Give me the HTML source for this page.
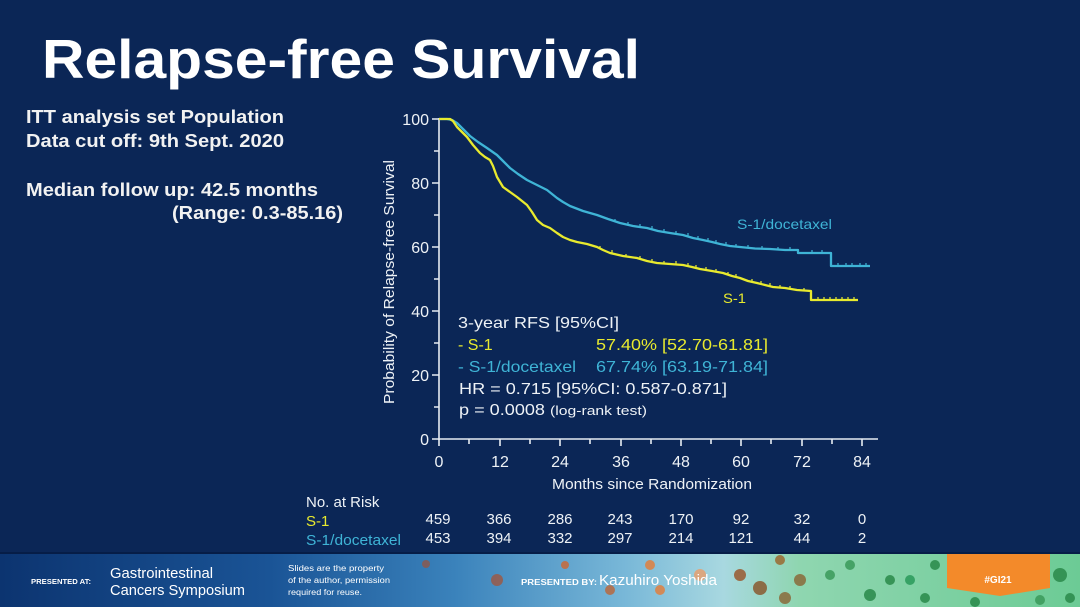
<!DOCTYPE html>
<html><head><meta charset="utf-8"><style>
html,body{margin:0;padding:0;background:#0b2656;}
svg{display:block;}
text{font-family:"Liberation Sans",Arial,sans-serif;}
</style></head><body>
<svg width="1080" height="607" viewBox="0 0 1080 607" xmlns="http://www.w3.org/2000/svg">
<defs>
<linearGradient id="foot" x1="0" y1="0" x2="1" y2="0">
<stop offset="0" stop-color="#0c3470"/>
<stop offset="0.25" stop-color="#1a5496"/>
<stop offset="0.42" stop-color="#3a82bb"/>
<stop offset="0.58" stop-color="#79b8d8"/>
<stop offset="0.67" stop-color="#a8d8e0"/>
<stop offset="0.74" stop-color="#8fd6b0"/>
<stop offset="1" stop-color="#6ccb95"/>
</linearGradient>
</defs>
<rect x="0" y="0" width="1080" height="607" fill="#0b2656"/>

<!-- Title -->
<text x="42" y="78" font-size="55" font-weight="bold" fill="#ffffff" textLength="598" lengthAdjust="spacingAndGlyphs">Relapse-free Survival</text>

<!-- Left text -->
<g font-size="18" font-weight="bold" fill="#f2f2f2">
<text x="26" y="123" textLength="258" lengthAdjust="spacingAndGlyphs">ITT analysis set Population</text>
<text x="26" y="147" textLength="258" lengthAdjust="spacingAndGlyphs">Data cut off: 9th Sept. 2020</text>
<text x="26" y="196" textLength="292" lengthAdjust="spacingAndGlyphs">Median follow up: 42.5 months</text>
<text x="172" y="219" textLength="171" lengthAdjust="spacingAndGlyphs">(Range: 0.3-85.16)</text>
</g>

<!-- Axes -->
<g stroke="#e6ebf2" stroke-width="1.6" fill="none">
<line x1="439" y1="118" x2="439" y2="440"/>
<line x1="438" y1="439" x2="878" y2="439"/>
<path d="M432 119H439M432 183H439M432 247H439M432 311H439M432 375H439M432 439H439"/>
<path d="M434 151H439M434 215H439M434 279H439M434 343H439M434 407H439"/>
<path d="M439 439V446M500 439V446M560 439V446M621 439V446M681 439V446M741 439V446M802 439V446M862 439V446"/>
<path d="M469 439V444M530 439V444M590 439V444M651 439V444M711 439V444M771 439V444M832 439V444"/>
</g>

<g font-size="16" fill="#eef2f6" text-anchor="end">
<text x="429" y="125">100</text>
<text x="429" y="189">80</text>
<text x="429" y="253">60</text>
<text x="429" y="317">40</text>
<text x="429" y="381">20</text>
<text x="429" y="445">0</text>
</g>
<g font-size="16" fill="#eef2f6" text-anchor="middle">
<text x="439" y="467">0</text>
<text x="500" y="467">12</text>
<text x="560" y="467">24</text>
<text x="621" y="467">36</text>
<text x="681" y="467">48</text>
<text x="741" y="467">60</text>
<text x="802" y="467">72</text>
<text x="862" y="467">84</text>
</g>
<text x="552" y="489" font-size="15" fill="#eef2f6" textLength="200" lengthAdjust="spacingAndGlyphs">Months since Randomization</text>
<text transform="translate(394,404) rotate(-90)" x="0" y="0" font-size="15" fill="#eef2f6" textLength="244" lengthAdjust="spacingAndGlyphs">Probability of Relapse-free  Survival</text>

<!-- Curves -->
<polyline fill="none" stroke="#3fb4d6" stroke-width="2.3" stroke-linejoin="round" points="439,119 447,119 452,120 457,123 463,129 470,136 478,142 487,148 497,155 503,161 510,168 518,174 527,180 537,185 547,190 552,194 557,198 563,202 570,206 583,211 597,215 608,219 620,223 633,226 647,228 658,231 670,233 683,235 693,238 703,240 712,242 720,244 730,246 740,247 755,248.5 770,249 785,250 798,250 798,253 831,253 831,266 870,266"/>
<polyline fill="none" stroke="#e8ea2e" stroke-width="2.3" stroke-linejoin="round" points="439,119 450,119 453,121 457,127 462,132 467,137 473,145 480,153 485,157 490,160 493,166 497,177 500,182 503,187 510,192 517,197 522,201 527,205 532,212 537,220 543,225 550,228 557,233 563,237 570,240 577,242 587,244 597,247 603,250 610,253 623,256 637,258 647,261 657,263 670,264 683,265 692,267 700,269 712,271 723,273 732,276 740,278 748,281 757,283 765,285 773,287 785,288 797,290 811,291 811,300 858,300"/>
<path fill="none" stroke="#3fb4d6" stroke-width="1.2" d="M615 222v-3M628 225v-3M640 227v-3M652 229v-3M664 232v-3M676 234v-3M688 236v-3M698 239v-3M708 241v-3M716 243v-3M726 245v-3M736 247v-3M748 248v-3M762 249v-3M778 250v-3M790 250v-3M812 253v-3M822 253v-3M838 266v-3M846 266v-3M852 266v-3M860 266v-3M866 266v-3"/>
<path fill="none" stroke="#e8ea2e" stroke-width="1.2" d="M600 249v-3M612 253v-3M626 257v-3M640 259v-3M652 262v-3M664 264v-3M676 264v-3M688 266v-3M696 268v-3M706 270v-3M716 272v-3M728 275v-3M736 277v-3M752 282v-3M761 284v-3M770 286v-3M780 288v-3M790 289v-3M804 291v-3M818 300v-3M824 300v-3M830 300v-3M836 300v-3M842 300v-3M848 300v-3M854 300v-3"/>

<text x="737" y="229" font-size="14" fill="#3fb4d6" textLength="95" lengthAdjust="spacingAndGlyphs">S-1/docetaxel</text>
<text x="723" y="303" font-size="14" fill="#e8ea2e" textLength="23" lengthAdjust="spacingAndGlyphs">S-1</text>

<g font-size="16">
<text x="458" y="328" fill="#eef2f6" textLength="161" lengthAdjust="spacingAndGlyphs">3-year RFS [95%CI]</text>
<text x="458" y="350" fill="#e8ea2e">- S-1</text>
<text x="596" y="350" fill="#e8ea2e" textLength="172" lengthAdjust="spacingAndGlyphs">57.40% [52.70-61.81]</text>
<text x="458" y="372" fill="#3fb4d6" textLength="118" lengthAdjust="spacingAndGlyphs">- S-1/docetaxel</text>
<text x="596" y="372" fill="#3fb4d6" textLength="172" lengthAdjust="spacingAndGlyphs">67.74% [63.19-71.84]</text>
<text x="459" y="394" fill="#eef2f6" textLength="268" lengthAdjust="spacingAndGlyphs">HR = 0.715 [95%CI: 0.587-0.871]</text>
<text x="459" y="415" fill="#eef2f6" textLength="86" lengthAdjust="spacingAndGlyphs">p = 0.0008</text>
<text x="550" y="415" font-size="13" fill="#eef2f6" textLength="97" lengthAdjust="spacingAndGlyphs">(log-rank test)</text>
</g>

<g font-size="15">
<text x="306" y="507" fill="#eef2f6">No. at Risk</text>
<text x="306" y="526" fill="#e8ea2e">S-1</text>
<text x="306" y="545" fill="#3fb4d6" textLength="95" lengthAdjust="spacingAndGlyphs">S-1/docetaxel</text>
</g>
<g font-size="15" fill="#eef2f6" text-anchor="middle">
<text x="438" y="524">459</text><text x="499" y="524">366</text><text x="560" y="524">286</text><text x="620" y="524">243</text><text x="681" y="524">170</text><text x="741" y="524">92</text><text x="802" y="524">32</text><text x="862" y="524">0</text>
<text x="438" y="543">453</text><text x="499" y="543">394</text><text x="560" y="543">332</text><text x="620" y="543">297</text><text x="681" y="543">214</text><text x="741" y="543">121</text><text x="802" y="543">44</text><text x="862" y="543">2</text>
</g>

<!-- Footer -->
<rect x="0" y="552" width="1080" height="3" fill="#061d47"/>
<rect x="0" y="554" width="1080" height="53" fill="url(#foot)"/>
<g opacity="0.85">
<circle cx="565" cy="565" r="4" fill="#c96a3a"/>
<circle cx="610" cy="590" r="5" fill="#b86a40"/>
<circle cx="497" cy="580" r="6" fill="#9a5a48"/>
<circle cx="426" cy="564" r="4" fill="#8a5a50"/>
<circle cx="650" cy="565" r="5" fill="#e08040"/>
<circle cx="660" cy="590" r="5" fill="#e08040"/>
<circle cx="700" cy="575" r="6" fill="#e6a070"/>
<circle cx="740" cy="575" r="6" fill="#9a5a30"/>
<circle cx="760" cy="588" r="7" fill="#8a5a30"/>
<circle cx="780" cy="560" r="5" fill="#9a6a30"/>
<circle cx="800" cy="580" r="6" fill="#8a6a3a"/>
<circle cx="785" cy="598" r="6" fill="#8a6a3a"/>
<circle cx="830" cy="575" r="5" fill="#3a9a5a"/>
<circle cx="850" cy="565" r="5" fill="#3a9a5a"/>
<circle cx="870" cy="595" r="6" fill="#2a8a4a"/>
<circle cx="890" cy="580" r="5" fill="#2a8a4a"/>
<circle cx="910" cy="580" r="5" fill="#2a9a5a"/>
<circle cx="925" cy="598" r="5" fill="#2a8a4a"/>
<circle cx="935" cy="565" r="5" fill="#2a8a4a"/>
<circle cx="1060" cy="575" r="7" fill="#2a8a4a"/>
<circle cx="1040" cy="600" r="5" fill="#3a9a5a"/>
<circle cx="975" cy="602" r="5" fill="#2a8a4a"/>
<circle cx="1070" cy="598" r="5" fill="#2a8a4a"/>
</g>
<polygon points="947,554 1050,554 1050,588 1000,596 947,588" fill="#f38a2a"/>
<text x="998" y="583" font-size="10" font-weight="bold" fill="#ffffff" text-anchor="middle">#GI21</text>

<text x="31" y="584" font-size="7.5" font-weight="bold" fill="#ffffff" textLength="60" lengthAdjust="spacingAndGlyphs">PRESENTED AT:</text>
<text x="110" y="578" font-size="15" fill="#ffffff" textLength="103" lengthAdjust="spacingAndGlyphs">Gastrointestinal</text>
<text x="110" y="595" font-size="15" fill="#ffffff" textLength="135" lengthAdjust="spacingAndGlyphs">Cancers Symposium</text>
<g font-size="8" fill="#ffffff">
<text x="288" y="571" textLength="96" lengthAdjust="spacingAndGlyphs">Slides are the property</text>
<text x="288" y="583" textLength="102" lengthAdjust="spacingAndGlyphs">of the author, permission</text>
<text x="288" y="595" textLength="74" lengthAdjust="spacingAndGlyphs">required for reuse.</text>
</g>
<text x="521" y="585" font-size="8" font-weight="bold" fill="#ffffff" textLength="76" lengthAdjust="spacingAndGlyphs">PRESENTED BY:</text>
<text x="599" y="585" font-size="15" fill="#ffffff" textLength="118" lengthAdjust="spacingAndGlyphs">Kazuhiro Yoshida</text>
</svg>
</body></html>
